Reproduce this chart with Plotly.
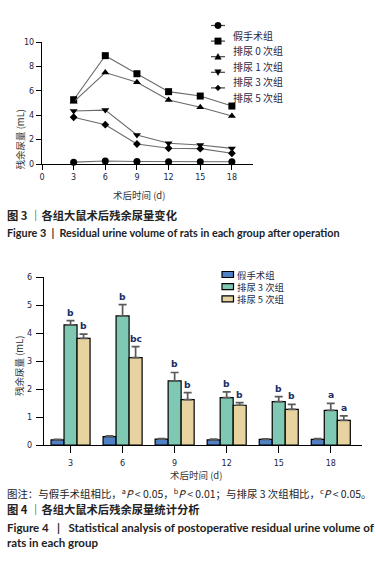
import plotly.graph_objects as go

W, H = 376, 568


def px(x):
    return x / W


def py(y):
    return 1 - y / H


# ---------------- Figure 3 data ----------------
days = [3, 6, 9, 12, 15, 18]
line_groups = ["假手术组", "排尿 0 次组", "排尿 1 次组", "排尿 3 次组", "排尿 5 次组"]
sham = [0.15, 0.25, 0.20, 0.18, 0.18, 0.18]
void0 = [5.27, 8.88, 7.40, 5.93, 5.57, 4.75]
void1 = [5.10, 7.50, 6.70, 5.25, 4.65, 3.93]
void3 = [4.34, 4.42, 2.38, 1.70, 1.56, 1.28]
void5 = [3.83, 3.22, 1.64, 1.29, 1.26, 0.88]
line_values = [sham, void0, void1, void3, void5]
line_x_ticks = [0, 3, 6, 9, 12, 15, 18]
line_y_ticks = [0, 2, 4, 6, 8, 10]

# ---------------- Figure 4 data ----------------
bar_days = ["3", "6", "9", "12", "15", "18"]
bar_groups = ["假手术组", "排尿 3 次组", "排尿 5 次组"]
sham_bar = [0.18, 0.30, 0.21, 0.18, 0.20, 0.20]
sham_err = [0.02, 0.03, 0.02, 0.03, 0.02, 0.03]
v3_bar = [4.29, 4.61, 2.29, 1.69, 1.55, 1.24]
v3_err = [0.15, 0.40, 0.30, 0.21, 0.18, 0.25]
v5_bar = [3.81, 3.12, 1.62, 1.42, 1.27, 0.88]
v5_err = [0.15, 0.39, 0.25, 0.09, 0.18, 0.16]
v3_sig = ["b", "b", "b", "b", "b", "a"]
v5_sig = ["b", "bc", "b", "b", "b", "a"]
bar_values = [sham_bar, v3_bar, v5_bar]
bar_errors = [sham_err, v3_err, v5_err]
bar_y_ticks = [0, 1, 2, 3, 4, 5, 6]

# ---------------- styles ----------------
CJK = "Noto Sans CJK SC"
NUM = "DejaVu Sans"
TICKCOL = "#1c2440"
TITLECOL = "#333333"
line_symbols = ["circle", "square", "triangle-up", "triangle-down", "diamond"]
line_sizes = [7, 7, 7, 7, 6]
bar_colors = ["#4f81c4", "#7fc8b3", "#e6d3a0"]

fig = go.Figure()

for name, vals, sym, sz in zip(line_groups, line_values, line_symbols, line_sizes):
    fig.add_trace(go.Scatter(
        x=days, y=vals, name=name, mode="lines+markers",
        line=dict(color="#6a6a6a", width=1.1),
        marker=dict(symbol=sym, size=sz, color="black"),
        xaxis="x", yaxis="y", showlegend=False, cliponaxis=False,
    ))

for name, vals, errs, col in zip(bar_groups, bar_values, bar_errors, bar_colors):
    fig.add_trace(go.Bar(
        x=bar_days, y=vals, name=name,
        marker=dict(color=col, line=dict(color="black", width=1.2)),
        error_y=dict(type="data", array=errs, arrayminus=[0] * len(errs),
                     symmetric=False, color="#5a5a5a", thickness=1.7, width=4),
        xaxis="x2", yaxis="y2", showlegend=False,
    ))

axis_common = dict(showline=True, linecolor="black", linewidth=1.4,
                   ticks="outside", tickcolor="black", tickwidth=1.4,
                   showgrid=False, zeroline=False, automargin=False,
                   tickfont=dict(family=NUM, size=8, color=TICKCOL))

fig.update_layout(
    width=W, height=H, autosize=False,
    margin=dict(l=0, r=0, t=0, b=0),
    paper_bgcolor="white", plot_bgcolor="white",
    font=dict(family=CJK, color=TITLECOL),
    barmode="group", bargap=0.25, bargroupgap=0,
    xaxis=dict(domain=[px(42), px(253)], range=[0, 20], tickvals=line_x_ticks,
               ticklen=5, anchor="y", **axis_common),
    yaxis=dict(domain=[py(164), py(42)], range=[0, 10], tickvals=line_y_ticks,
               ticklen=5, anchor="x", **axis_common),
    xaxis2=dict(domain=[px(44), px(362)], type="category", range=[-0.51, 5.6],
                ticklen=7, ticklabelstandoff=3, anchor="y2", **axis_common),
    yaxis2=dict(domain=[py(445), py(277)], range=[0, 6], tickvals=bar_y_ticks,
                ticklen=7, ticklabelstandoff=2, anchor="x2", **axis_common),
)

ann = []
shapes = []

# axis titles
ann.append(dict(text="术后时间 (d)", x=px(139), y=py(195), xref="paper", yref="paper",
                showarrow=False, font=dict(size=9.5, color=TITLECOL)))
ann.append(dict(text="残余尿量 (mL)", x=px(10), y=py(107), xref="paper", yref="paper",
                showarrow=False, textangle=-90, font=dict(size=9.5, color=TITLECOL)))
ann.append(dict(text="术后时间 (d)", x=px(196), y=py(484), xref="paper", yref="paper",
                showarrow=False, font=dict(size=9.5, color=TITLECOL)))
ann.append(dict(text="残余尿量 (mL)", x=px(10), y=py(366), xref="paper", yref="paper",
                showarrow=False, textangle=-90, font=dict(size=9.5, color=TITLECOL)))

# significance letters
SIGCOL = "#1a2d66"
for i, (v, e, s) in enumerate(zip(v3_bar, v3_err, v3_sig)):
    ann.append(dict(text="<b>" + s + "</b>", x=i, y=v + e, xref="x2", yref="y2", showarrow=False,
                    yanchor="bottom", yshift=1, xshift=0,
                    font=dict(family=NUM, size=9.2, color=SIGCOL)))
for i, (v, e, s) in enumerate(zip(v5_bar, v5_err, v5_sig)):
    ann.append(dict(text="<b>" + s + "</b>", x=i, y=v + e, xref="x2", yref="y2", showarrow=False,
                    yanchor="bottom", yshift=1, xshift=13,
                    font=dict(family=NUM, size=9.2, color=SIGCOL)))

# line chart legend (manual)
def marker_shape(sym, cx, cy, r):
    if sym == "circle":
        return dict(type="circle", x0=px(cx - r), x1=px(cx + r), y0=py(cy + r), y1=py(cy - r))
    if sym == "square":
        return dict(type="rect", x0=px(cx - r), x1=px(cx + r), y0=py(cy + r), y1=py(cy - r))
    if sym == "triangle-up":
        path = f"M{px(cx - r)},{py(cy + r * 0.8)} L{px(cx + r)},{py(cy + r * 0.8)} L{px(cx)},{py(cy - r)} Z"
    elif sym == "triangle-down":
        path = f"M{px(cx - r)},{py(cy - r * 0.8)} L{px(cx + r)},{py(cy - r * 0.8)} L{px(cx)},{py(cy + r)} Z"
    else:
        path = f"M{px(cx - r)},{py(cy)} L{px(cx)},{py(cy - r)} L{px(cx + r)},{py(cy)} L{px(cx)},{py(cy + r)} Z"
    return dict(type="path", path=path)

for i, (name, sym) in enumerate(zip(line_groups, line_symbols)):
    ry = 25.5 + i * 15.6
    shapes.append(dict(type="line", xref="paper", yref="paper", x0=px(211), x1=px(225),
                       y0=py(ry), y1=py(ry), line=dict(color="#444", width=1.2)))
    s = marker_shape(sym, 218, ry, 3.2 if sym != "diamond" else 2.8)
    s.update(xref="paper", yref="paper", fillcolor="black", line=dict(color="black", width=0.5))
    shapes.append(s)
    ann.append(dict(text=name, x=px(231), y=py(ry), xref="paper", yref="paper",
                    xanchor="left", showarrow=False, font=dict(size=10, color="#1e2a48")))

# bar chart legend (manual): boxes as shapes, names as one multi-line text
for i, col in enumerate(bar_colors):
    ry = 274.5 + i * 12.2
    shapes.append(dict(type="rect", xref="paper", yref="paper", x0=px(222), x1=px(233.5),
                       y0=py(ry + 3), y1=py(ry - 3), fillcolor=col,
                       line=dict(color="black", width=1.2)))
ann.append(dict(text="<br>".join(bar_groups), x=px(234.5), y=py(274.5 + 12.2),
                xref="paper", yref="paper", xanchor="left", yanchor="middle", align="left",
                showarrow=False, font=dict(size=9.4, color="#1e2a48")))

# captions
ann.append(dict(text="<b>图 3 ｜各组大鼠术后残余尿量变化</b>", x=px(5), y=py(215),
                xref="paper", yref="paper", xanchor="left", showarrow=False,
                font=dict(size=11.3, color="#222")))
ann.append(dict(text="<b>Figure 3  |  Residual urine volume of rats in each group after operation</b>",
                x=px(5), y=py(233), xref="paper", yref="paper", xanchor="left", showarrow=False,
                font=dict(family="Lato", size=10.8, color="#222")))
ann.append(dict(text="图注：与假手术组相比，<sup>a</sup><i>P</i> < 0.05，<sup>b</sup><i>P</i> < 0.01；与排尿 3 次组相比，<sup>c</sup><i>P</i> < 0.05。",
                x=px(5), y=py(503), xref="paper", yref="paper", xanchor="left", showarrow=False,
                font=dict(size=10.45, color="#222")))
ann.append(dict(text="<b>图 4 ｜各组大鼠术后残余尿量统计分析</b>", x=px(5), y=py(519),
                xref="paper", yref="paper", xanchor="left", showarrow=False,
                font=dict(size=11.3, color="#222")))
ann.append(dict(text="<b>Figure 4   |   Statistical analysis of postoperative residual urine volume of</b>",
                x=px(5), y=py(536), xref="paper", yref="paper", xanchor="left", showarrow=False,
                font=dict(family="Lato", size=11.5, color="#222")))
ann.append(dict(text="<b>rats in each group</b>",
                x=px(5), y=py(551), xref="paper", yref="paper", xanchor="left", showarrow=False,
                font=dict(family="Lato", size=11.5, color="#222")))

fig.update_layout(annotations=ann, shapes=shapes)

fig.write_html("out.html", config={"displayModeBar": False},
               post_script="document.body.style.margin='0px';")
